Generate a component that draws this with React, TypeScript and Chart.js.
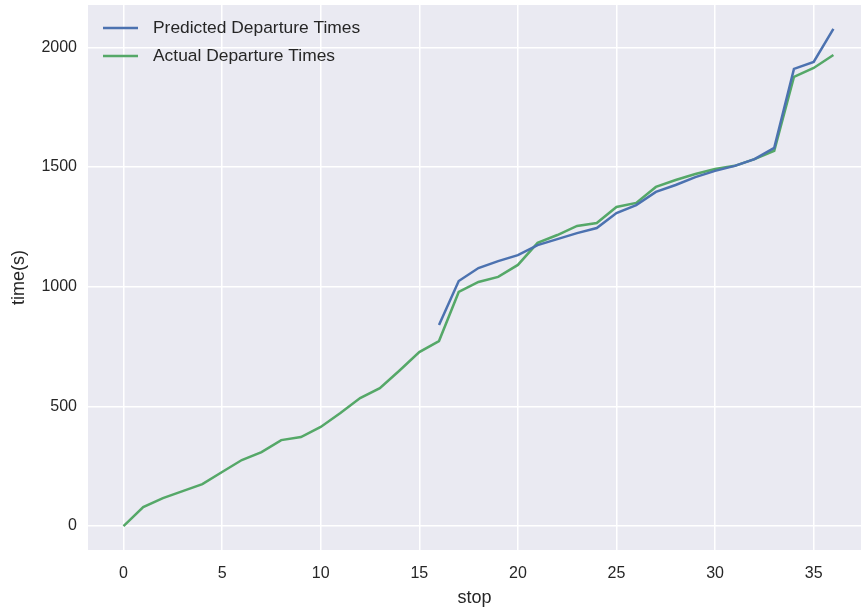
import React, { useEffect, useRef } from "react";
import { Chart, registerables } from "chart.js";

Chart.register(...registerables);

const stops = [0, 1, 2, 3, 4, 5, 6, 7, 8, 9, 10, 11, 12, 13, 14, 15, 16, 17, 18, 19, 20, 21, 22, 23, 24, 25, 26, 27, 28, 29, 30, 31, 32, 33, 34, 35, 36];
const predictedTimes = [null, null, null, null, null, null, null, null, null, null, null, null, null, null, null, null,
  840, 1024, 1078, 1107, 1132, 1174, 1199, 1224, 1245, 1308, 1341, 1396, 1425, 1458, 1484, 1505, 1533, 1580, 1910, 1939, 2077];
const actualTimes = [0, 79, 117, 146, 175, 226, 276, 309, 359, 372, 414, 472, 535, 576, 650, 727, 773, 978, 1020, 1041, 1091,
  1183, 1216, 1254, 1266, 1333, 1350, 1417, 1446, 1471, 1492, 1505, 1533, 1568, 1877, 1914, 1968];
const xTicks = [0, 5, 10, 15, 20, 25, 30, 35];
const yTicks = [0, 500, 1000, 1500, 2000];
const seriesNames = ["Predicted Departure Times", "Actual Departure Times"];

const FONT = "'Liberation Sans', Arial, sans-serif";
const TEXT = "#262626";
const BLUE = "#4C72B0";
const GREEN = "#55A868";

export default function App() {
  const ref = useRef<HTMLCanvasElement | null>(null);
  useEffect(() => {
    if (!ref.current) return;
    const bgPlugin = {
      id: "bg",
      beforeDraw(chart: any) {
        const { ctx, chartArea: a } = chart;
        ctx.save();
        ctx.fillStyle = "#ffffff";
        ctx.fillRect(0, 0, chart.width, chart.height);
        ctx.fillStyle = "#EAEAF2";
        ctx.fillRect(a.left, a.top, a.right - a.left, a.bottom - a.top);
        ctx.restore();
      },
    };
    const legendPlugin = {
      id: "innerLegend",
      afterDraw(chart: any) {
        const { ctx } = chart;
        ctx.save();
        const rows = [28, 56];
        chart.data.datasets.forEach((ds: any, i: number) => {
          const y = rows[i];
          ctx.strokeStyle = ds.borderColor;
          ctx.lineWidth = 2.5;
          ctx.beginPath();
          ctx.moveTo(103, y);
          ctx.lineTo(138, y);
          ctx.stroke();
          ctx.fillStyle = TEXT;
          ctx.font = `17.4px ${FONT}`;
          ctx.textBaseline = "middle";
          ctx.textAlign = "left";
          ctx.fillText(ds.label, 153, y);
        });
        ctx.restore();
      },
    };
    const chart = new Chart(ref.current, {
      type: "line",
      data: {
        datasets: [
          {
            label: seriesNames[0],
            data: stops.map((s, i) => ({ x: s, y: predictedTimes[i] })),
            borderColor: BLUE,
            backgroundColor: BLUE,
            borderWidth: 2.5,
            pointRadius: 0,
            tension: 0,
            spanGaps: false,
          },
          {
            label: seriesNames[1],
            data: stops.map((s, i) => ({ x: s, y: actualTimes[i] })),
            borderColor: GREEN,
            backgroundColor: GREEN,
            borderWidth: 2.5,
            pointRadius: 0,
            tension: 0,
          },
        ],
      },
      options: {
        animation: false,
        responsive: false,
        devicePixelRatio: 1,
        layout: { padding: { top: 5, left: 0, right: 0, bottom: 0 } },
        plugins: { legend: { display: false }, tooltip: { enabled: false } },
        scales: {
          x: {
            type: "linear",
            min: -1.8,
            max: 37.4,
            afterBuildTicks(scale: any) {
              scale.ticks = xTicks.map((v) => ({ value: v }));
            },
            afterFit(scale: any) {
              scale.height = 60;
              scale.paddingLeft = 0;
              scale.paddingRight = 0;
            },
            grid: { color: "#ffffff", lineWidth: 1.5, drawTicks: false },
            border: { display: false },
            ticks: {
              padding: 14,
              color: TEXT,
              font: { family: FONT, size: 16 },
              maxRotation: 0,
              callback: (v: any) => String(v),
            },
            title: {
              display: true,
              text: "stop",
              color: TEXT,
              font: { family: FONT, size: 18 },
              padding: { top: 0, bottom: 1 },
            },
          },
          y: {
            type: "linear",
            min: -100,
            max: 2177,
            afterBuildTicks(scale: any) {
              scale.ticks = yTicks.map((v) => ({ value: v }));
            },
            afterFit(scale: any) {
              scale.width = 88;
              scale.paddingTop = 0;
              scale.paddingBottom = 0;
            },
            grid: { color: "#ffffff", lineWidth: 1.5, drawTicks: false },
            border: { display: false },
            ticks: {
              padding: 11,
              color: TEXT,
              font: { family: FONT, size: 16 },
              callback: (v: any) => String(v),
            },
            title: {
              display: true,
              text: "time(s)",
              color: TEXT,
              font: { family: FONT, size: 18 },
              padding: { top: 8, bottom: 0 },
            },
          },
        },
      },
      plugins: [bgPlugin, legendPlugin],
    } as any);
    return () => chart.destroy();
  }, []);
  return (
    <div style={{ position: "fixed", left: 0, top: 0, width: 861, height: 610, background: "#fff" }}>
      <canvas ref={ref} width={861} height={610} style={{ display: "block" }} />
    </div>
  );
}
